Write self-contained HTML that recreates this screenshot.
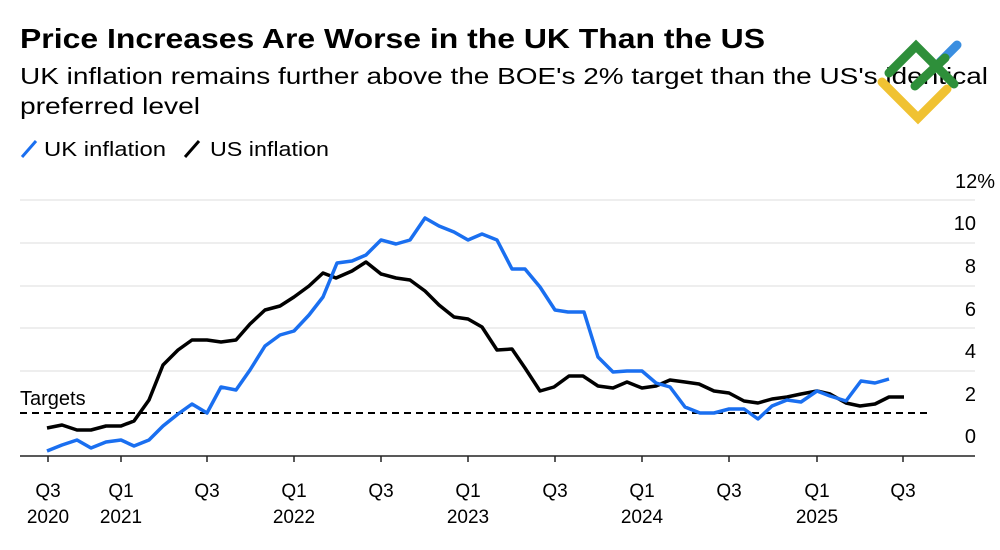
<!DOCTYPE html>
<html><head><meta charset="utf-8"><style>
body{margin:0;background:#fff;width:1000px;height:545px;overflow:hidden;font-family:"Liberation Sans",Arial,sans-serif;}
</style></head><body>
<svg width="1000" height="545" viewBox="0 0 1000 545" xmlns="http://www.w3.org/2000/svg" font-family="Liberation Sans, Arial, sans-serif">
<text x="20" y="48" font-size="28" font-weight="bold" fill="#000" textLength="745" lengthAdjust="spacingAndGlyphs">Price Increases Are Worse in the UK Than the US</text>
<text x="20" y="84" font-size="23" fill="#000" textLength="968" lengthAdjust="spacingAndGlyphs">UK inflation remains further above the BOE's 2% target than the US's identical</text>
<text x="20" y="114" font-size="23" fill="#000" textLength="180" lengthAdjust="spacingAndGlyphs">preferred level</text>
<line x1="22" y1="157" x2="36" y2="141" stroke="#1a6ff0" stroke-width="3"/>
<text x="44" y="156" font-size="20" textLength="122" lengthAdjust="spacingAndGlyphs">UK inflation</text>
<line x1="185" y1="157" x2="199" y2="141" stroke="#000" stroke-width="3"/>
<text x="210" y="156" font-size="20" textLength="119" lengthAdjust="spacingAndGlyphs">US inflation</text>
<g stroke="#e8e8e8" stroke-width="1.5">
<line x1="20" y1="200" x2="975" y2="200"/><line x1="20" y1="243" x2="975" y2="243"/>
<line x1="20" y1="286" x2="975" y2="286"/><line x1="20" y1="328" x2="975" y2="328"/>
<line x1="20" y1="371" x2="975" y2="371"/>
</g>
<line x1="20" y1="456" x2="975" y2="456" stroke="#222" stroke-width="1.5"/>
<g stroke="#222" stroke-width="1.5">
<line x1="48" y1="456" x2="48" y2="462"/><line x1="121" y1="456" x2="121" y2="462"/><line x1="207" y1="456" x2="207" y2="462"/><line x1="294" y1="456" x2="294" y2="462"/><line x1="381" y1="456" x2="381" y2="462"/><line x1="468" y1="456" x2="468" y2="462"/><line x1="555" y1="456" x2="555" y2="462"/><line x1="642" y1="456" x2="642" y2="462"/><line x1="729" y1="456" x2="729" y2="462"/><line x1="817" y1="456" x2="817" y2="462"/><line x1="903" y1="456" x2="903" y2="462"/>
</g>
<line x1="20" y1="413" x2="928" y2="413" stroke="#000" stroke-width="2" stroke-dasharray="7,5"/>
<text x="20" y="405" font-size="20">Targets</text>
<g font-size="20" text-anchor="end" fill="#000">
<text x="995" y="188">12%</text><text x="976" y="230">10</text><text x="976" y="273">8</text><text x="976" y="316">6</text><text x="976" y="358">4</text><text x="976" y="401">2</text><text x="976" y="443">0</text>
</g>
<g font-size="19" text-anchor="middle" fill="#000">
<text x="48" y="497">Q3</text><text x="48" y="523">2020</text>
<text x="121" y="497">Q1</text><text x="121" y="523">2021</text>
<text x="207" y="497">Q3</text>
<text x="294" y="497">Q1</text><text x="294" y="523">2022</text>
<text x="381" y="497">Q3</text>
<text x="468" y="497">Q1</text><text x="468" y="523">2023</text>
<text x="555" y="497">Q3</text>
<text x="642" y="497">Q1</text><text x="642" y="523">2024</text>
<text x="729" y="497">Q3</text>
<text x="817" y="497">Q1</text><text x="817" y="523">2025</text>
<text x="903" y="497">Q3</text>
</g>
<polyline fill="none" stroke="#000" stroke-width="3.5" stroke-linejoin="round" points="47,428 62,425 77,430 91,430 106,426 121,426 134,421 149,400 163,365 178,350 192,340 207,340 221,342 236,340 250,324 265,310 280,306 294,297 309,286 323,273 336,278 352,271 366,262 381,274 396,278 410,280 425,291 439,305 454,317 468,319 482,327 497,350 512,349 525,368 540,391 554,387 569,376 583,376 598,386 613,388 627,382 642,388 656,386 670,380 685,382 699,384 714,391 729,393 744,401 758,403 772,399 787,397 801,394 817,391 830,394 846,403 860,406 875,404 889,397 904,397"/>
<polyline fill="none" stroke="#1a6ff0" stroke-width="3.5" stroke-linejoin="round" points="47,451 62,445 77,440 91,448 106,442 121,440 134,446 149,440 163,426 178,414 192,404 207,413 221,387 236,390 250,370 265,346 280,335 294,331 309,315 323,297 337,263 352,261 366,255 381,240 396,244 410,240 425,218 439,226 454,232 468,240 482,234 497,240 512,269 525,269 540,287 555,310 568,312 584,312 598,357 613,372 627,371 642,371 656,383 670,387 685,407 700,413 714,413 729,409 744,409 758,419 772,406 787,400 801,402 817,391 830,396 846,401 861,381 875,383 889,379"/>
<g stroke-linecap="round" fill="none" stroke-width="9">
<line x1="940" y1="62" x2="957" y2="45" stroke="#3a8ee0"/>
<polyline points="882,82 918,118 947,89" stroke="#f0c232"/>
<polyline points="889,73 916,46 954,84" stroke="#2e8f3a"/>
<line x1="915" y1="86" x2="945" y2="58" stroke="#2e8f3a"/>
</g>
</svg>
</body></html>
